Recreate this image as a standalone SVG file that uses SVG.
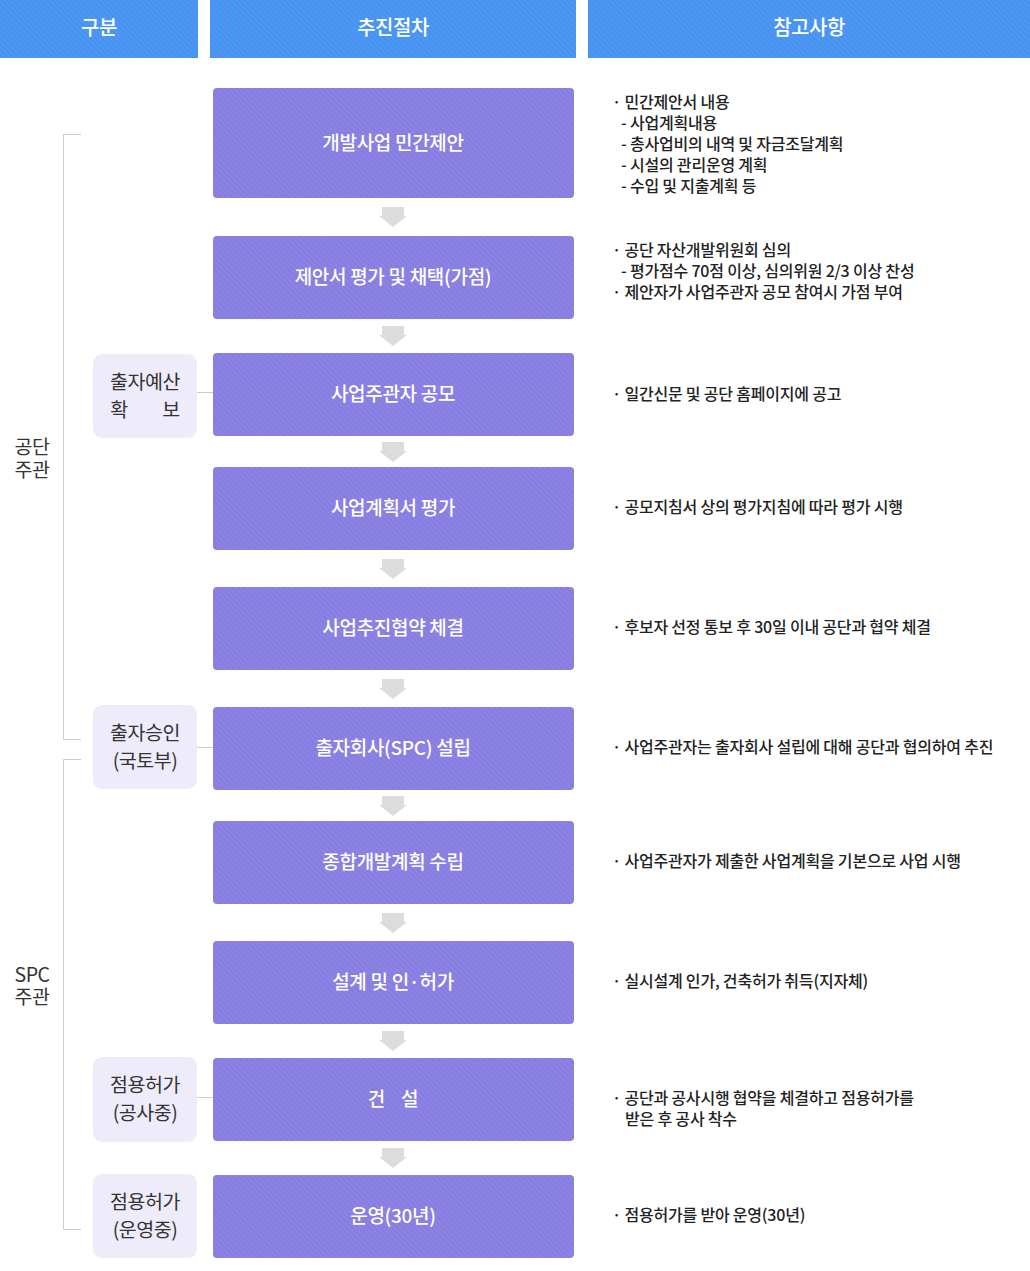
<svg xmlns="http://www.w3.org/2000/svg" width="1030" height="1271" viewBox="0 0 1030 1271">
<defs>
<pattern id="pHead" width="4" height="4" patternUnits="userSpaceOnUse" patternTransform="rotate(-45)">
<rect width="4" height="4" fill="#4e98f5"/>
<rect width="1.5" height="4" fill="#4690ee"/>
</pattern>
<pattern id="pStep" width="4" height="4" patternUnits="userSpaceOnUse" patternTransform="rotate(-45)">
<rect width="4" height="4" fill="#8d83e4"/>
<rect width="1.5" height="4" fill="#867bdf"/>
</pattern>
<symbol id="arrow" viewBox="0 0 28 20" width="28" height="20" overflow="visible">
<path d="M3 0H25V9H28L14 20L0 9H3Z" fill="#dcdcdc"/>
</symbol>
</defs>
<style>
text{font-family:"Noto Sans CJK KR","Noto Sans",sans-serif;}
.hd{fill:url(#pHead);}
.ht{fill:#fff;font-size:20px;font-weight:500;text-anchor:middle;letter-spacing:-0.5px;}
.st{fill:url(#pStep);}
.stt{fill:#fff;font-size:19px;font-weight:500;text-anchor:middle;letter-spacing:-0.3px;}
.sb{fill:#eeecfa;}
.sbt{fill:#333;font-size:19.5px;text-anchor:middle;letter-spacing:-0.5px;}
.gl{fill:#333;font-size:19.5px;text-anchor:middle;letter-spacing:-0.5px;}
.nt{fill:#222;font-size:16px;font-weight:500;letter-spacing:-0.2px;}
.ln{fill:none;stroke:#cccccc;stroke-width:1;}
</style>
<rect width="1030" height="1271" fill="#fff"/>

<g id="header">
<rect class="hd" x="0" y="0" width="198" height="58"/>
<text class="ht" x="99" y="35">구분</text>
<rect class="hd" x="210" y="0" width="366" height="58"/>
<text class="ht" x="393" y="35">추진절차</text>
<rect class="hd" x="588" y="0" width="442" height="58"/>
<text class="ht" x="809" y="35">참고사항</text>
</g>

<g id="connectors">
<path class="ln" d="M81 134.5H63.5V739.5H81"/>
<path class="ln" d="M81 759.5H63.5V1229.5H81"/>
<path class="ln" d="M197 392.5H213"/>
<path class="ln" d="M197 747.5H213"/>
<path class="ln" d="M197 1097.5H213"/>
<use href="#arrow" x="379" y="207"/>
<use href="#arrow" x="379" y="326"/>
<use href="#arrow" x="379" y="442"/>
<use href="#arrow" x="379" y="559"/>
<use href="#arrow" x="379" y="679"/>
<use href="#arrow" x="379" y="796"/>
<use href="#arrow" x="379" y="913"/>
<use href="#arrow" x="379" y="1031"/>
<use href="#arrow" x="379" y="1148"/>
</g>

<g id="group-gongdan">
<text class="gl" x="32" y="454">공단</text>
<text class="gl" x="32" y="477">주관</text>
</g>
<g id="group-spc">
<text class="gl" x="32" y="982">SPC</text>
<text class="gl" x="32" y="1004">주관</text>
</g>

<g id="side-1">
<rect class="sb" x="93" y="354" width="104" height="84" rx="9"/>
<text class="sbt" x="145" y="389">출자예산</text>
<text class="sbt" x="119" y="417">확</text>
<text class="sbt" x="171" y="417">보</text>
</g>
<g id="side-2">
<rect class="sb" x="93" y="705" width="104" height="84" rx="9"/>
<text class="sbt" x="145" y="740">출자승인</text>
<text class="sbt" x="145" y="768">(국토부)</text>
</g>
<g id="side-3">
<rect class="sb" x="93" y="1057" width="104" height="85" rx="9"/>
<text class="sbt" x="145" y="1092">점용허가</text>
<text class="sbt" x="145" y="1120">(공사중)</text>
</g>
<g id="side-4">
<rect class="sb" x="93" y="1174" width="104" height="84" rx="9"/>
<text class="sbt" x="145" y="1209">점용허가</text>
<text class="sbt" x="145" y="1237">(운영중)</text>
</g>

<g id="step-1">
<rect class="st" x="213" y="88" width="361" height="110" rx="4"/>
<text class="stt" x="393" y="150">개발사업 민간제안</text>
</g>
<g id="step-2">
<rect class="st" x="213" y="236" width="361" height="83" rx="4"/>
<text class="stt" x="393" y="284">제안서 평가 및 채택(가점)</text>
</g>
<g id="step-3">
<rect class="st" x="213" y="353" width="361" height="83" rx="4"/>
<text class="stt" x="393" y="401">사업주관자 공모</text>
</g>
<g id="step-4">
<rect class="st" x="213" y="467" width="361" height="83" rx="4"/>
<text class="stt" x="393" y="515">사업계획서 평가</text>
</g>
<g id="step-5">
<rect class="st" x="213" y="587" width="361" height="83" rx="4"/>
<text class="stt" x="393" y="635">사업추진협약 체결</text>
</g>
<g id="step-6">
<rect class="st" x="213" y="707" width="361" height="83" rx="4"/>
<text class="stt" x="393" y="755">출자회사(SPC) 설립</text>
</g>
<g id="step-7">
<rect class="st" x="213" y="821" width="361" height="83" rx="4"/>
<text class="stt" x="393" y="869">종합개발계획 수립</text>
</g>
<g id="step-8">
<rect class="st" x="213" y="941" width="361" height="83" rx="4"/>
<text class="stt" x="393" y="989">설계 및 인·허가</text>
</g>
<g id="step-9">
<rect class="st" x="213" y="1058" width="361" height="83" rx="4"/>
<text class="stt" x="393" y="1106" xml:space="preserve">건    설</text>
</g>
<g id="step-10">
<rect class="st" x="213" y="1175" width="361" height="83" rx="4"/>
<text class="stt" x="393" y="1223">운영(30년)</text>
</g>

<g id="note-1">
<text class="nt" x="612" y="108">· 민간제안서 내용</text>
<text class="nt" x="621" y="129">- 사업계획내용</text>
<text class="nt" x="621" y="150">- 총사업비의 내역 및 자금조달계획</text>
<text class="nt" x="621" y="171">- 시설의 관리운영 계획</text>
<text class="nt" x="621" y="192">- 수입 및 지출계획 등</text>
</g>
<g id="note-2">
<text class="nt" x="612" y="256">· 공단 자산개발위원회 심의</text>
<text class="nt" x="621" y="277">- 평가점수 70점 이상, 심의위원 2/3 이상 찬성</text>
<text class="nt" x="612" y="298">· 제안자가 사업주관자 공모 참여시 가점 부여</text>
</g>
<g id="note-3"><text class="nt" x="612" y="400">· 일간신문 및 공단 홈페이지에 공고</text></g>
<g id="note-4"><text class="nt" x="612" y="513">· 공모지침서 상의 평가지침에 따라 평가 시행</text></g>
<g id="note-5"><text class="nt" x="612" y="633">· 후보자 선정 통보 후 30일 이내 공단과 협약 체결</text></g>
<g id="note-6"><text class="nt" x="612" y="753">· 사업주관자는 출자회사 설립에 대해 공단과 협의하여 추진</text></g>
<g id="note-7"><text class="nt" x="612" y="867">· 사업주관자가 제출한 사업계획을 기본으로 사업 시행</text></g>
<g id="note-8"><text class="nt" x="612" y="987">· 실시설계 인가, 건축허가 취득(지자체)</text></g>
<g id="note-9">
<text class="nt" x="612" y="1104">· 공단과 공사시행 협약을 체결하고 점용허가를</text>
<text class="nt" x="625" y="1125">받은 후 공사 착수</text>
</g>
<g id="note-10"><text class="nt" x="612" y="1221">· 점용허가를 받아 운영(30년)</text></g>
</svg>
